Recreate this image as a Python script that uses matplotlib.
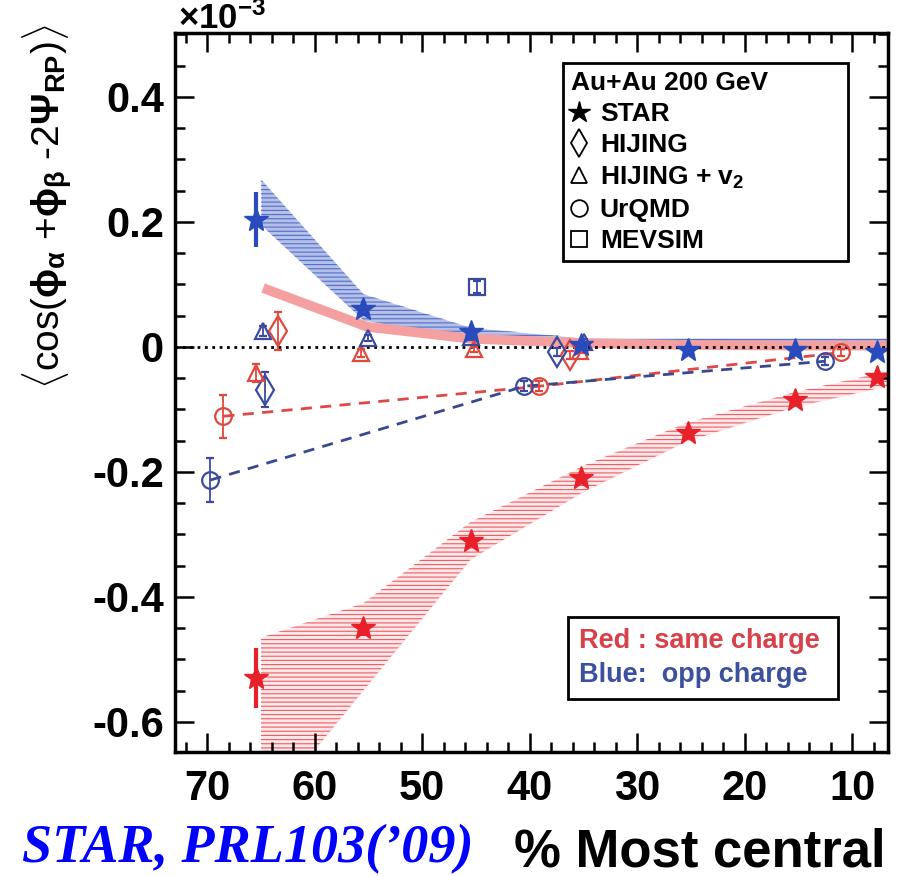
import matplotlib.pyplot as plt
import matplotlib.ticker as ticker
from matplotlib.lines import Line2D

plt.rcParams['font.family'] = ['Liberation Sans', 'DejaVu Sans']
plt.rcParams['font.weight'] = 'bold'
plt.rcParams['axes.unicode_minus'] = False
plt.rcParams['mathtext.fontset'] = 'custom'
plt.rcParams['mathtext.rm'] = 'Liberation Sans:bold'
plt.rcParams['mathtext.it'] = 'Liberation Sans:bold'
plt.rcParams['mathtext.bf'] = 'Liberation Sans:bold'
plt.rcParams['hatch.linewidth'] = 0.8

# STAR points (centrality %, value x 1e-3)
star_x = [65.5, 55.5, 45.5, 35.2, 25.3, 15.3, 7.7]
star_same = [-0.53, -0.45, -0.31, -0.21, -0.137, -0.085, -0.048]
star_same_err = [0.048, 0.012, 0.008, 0.006, 0.004, 0.004, 0.004]
star_opp = [0.203, 0.061, 0.023, 0.003, -0.005, -0.005, -0.008]
star_opp_err = [0.044, 0.012, 0.006, 0.004, 0.003, 0.003, 0.003]

# systematic bands
band_x = [65.0, 55.5, 45.5, 35.0, 25.5, 15.5, 6.5]
band_same_hi = [-0.465, -0.41, -0.28, -0.19, -0.122, -0.073, -0.038]
band_same_lo = [-0.75, -0.55, -0.34, -0.232, -0.152, -0.097, -0.062]
band_opp_hi = [0.268, 0.085, 0.031, 0.014, 0.014, 0.014, 0.014]
band_opp_lo = [0.195, 0.043, 0.011, 0.003, 0.002, 0.002, 0.002]

# thick pink curve
pink_x = [64.8, 55.1, 45.4, 35.0, 25.0, 15.0, 6.5]
pink_y = [0.094, 0.032, 0.013, 0.006, 0.003, 0.002, 0.002]

# HIJING
hij_same_x, hij_same_y, hij_same_err = [63.4, 36.2], [0.025, -0.013], [0.03, 0.006]
hij_opp_x, hij_opp_y, hij_opp_err = [64.6, 37.5], [-0.069, -0.008], [0.028, 0.006]

# HIJING + v2
hv2_same_x = [65.5, 55.7, 45.2, 35.3]
hv2_same_y = [-0.042, -0.010, -0.004, -0.006]
hv2_same_err = [0.014, 0.006, 0.004, 0.004]
hv2_opp_x = [64.8, 55.0, 45.5, 34.9]
hv2_opp_y = [0.025, 0.014, 0.015, 0.008]
hv2_opp_err = [0.008, 0.005, 0.004, 0.004]

# UrQMD
urq_same_x, urq_same_y, urq_same_err = [68.5, 39.1, 11.0], [-0.111, -0.063, -0.009], [0.034, 0.008, 0.006]
urq_opp_x, urq_opp_y, urq_opp_err = [69.7, 40.5, 12.5], [-0.213, -0.063, -0.023], [0.035, 0.008, 0.006]

# MEVSIM
mev_x, mev_y, mev_err = [44.9], [0.096], [0.01]

RED = '#e8202a'
RED_O = '#e0483c'
BLUE = '#2a4bbd'
BLUE_O = '#3b4a9e'
PINK = '#f4a0a0'

fig = plt.figure(figsize=(8.98, 8.76), dpi=100)
ax = fig.add_axes([0.1949, 0.1416, 0.794, 0.8207])

# bands
ax.fill_between(band_x, band_same_lo, band_same_hi, color=RED, alpha=0.10, lw=0)
ax.fill_between(band_x, band_same_lo, band_same_hi, facecolor='none', edgecolor=RED,
                hatch='----', lw=0, alpha=0.7)
ax.plot(pink_x, pink_y, color=PINK, lw=7, solid_capstyle='butt')
ax.fill_between(band_x, band_opp_lo, band_opp_hi, color=BLUE, alpha=0.35, lw=0)
ax.fill_between(band_x, band_opp_lo, band_opp_hi, facecolor='none', edgecolor=BLUE,
                hatch='----', lw=0, alpha=0.7)

ax.axhline(0, color='k', ls=':', lw=2)

# UrQMD dashed curves
ax.plot(urq_same_x, urq_same_y, color='#e04848', ls='--', lw=2, dashes=(4, 3))
ax.plot(urq_opp_x, urq_opp_y, color='#3a4890', ls='--', lw=2, dashes=(4, 3))

open_kw = dict(mfc='none', mew=1.6, elinewidth=1.3, capsize=3, ls='none')
ax.errorbar(urq_same_x, urq_same_y, yerr=urq_same_err, fmt='o', ms=12, color=RED_O, **open_kw)
ax.errorbar(urq_opp_x, urq_opp_y, yerr=urq_opp_err, fmt='o', ms=12, color=BLUE_O, **open_kw)
ax.errorbar(hij_same_x, hij_same_y, yerr=hij_same_err, fmt='d', ms=15, color=RED_O, **open_kw)
ax.errorbar(hij_opp_x, hij_opp_y, yerr=hij_opp_err, fmt='d', ms=15, color=BLUE_O, **open_kw)
ax.errorbar(hv2_same_x, hv2_same_y, yerr=hv2_same_err, fmt='^', ms=12, color=RED_O, **open_kw)
ax.errorbar(hv2_opp_x, hv2_opp_y, yerr=hv2_opp_err, fmt='^', ms=12, color=BLUE_O, **open_kw)
ax.errorbar(mev_x, mev_y, yerr=mev_err, fmt='s', ms=11, color=BLUE_O, **open_kw)

ax.errorbar(star_x, star_same, yerr=star_same_err, fmt='*', ms=18, color=RED,
            elinewidth=3, capsize=0)
ax.errorbar(star_x, star_opp, yerr=star_opp_err, fmt='*', ms=18, color=BLUE,
            elinewidth=3, capsize=0)

ax.set_xlim(73.0, 6.65)
ax.set_ylim(-0.648, 0.502)
ax.xaxis.set_major_locator(ticker.MultipleLocator(10))
ax.xaxis.set_minor_locator(ticker.MultipleLocator(2))
ax.yaxis.set_major_locator(ticker.MultipleLocator(0.2))
ax.yaxis.set_minor_locator(ticker.MultipleLocator(0.05))
fmt = ticker.FuncFormatter(lambda v, pos: '{0:g}'.format(round(v, 3)))
ax.xaxis.set_major_formatter(fmt)
ax.yaxis.set_major_formatter(fmt)
ax.tick_params(which='both', direction='in', top=True, right=True, width=1.8)
ax.tick_params(which='major', length=14)
ax.tick_params(which='minor', length=7)
ax.tick_params(axis='both', labelsize=30)
ax.tick_params(axis='x', pad=12)
ax.tick_params(axis='y', pad=8)
for s in ax.spines.values():
    s.set_linewidth(2.5)

ax.set_ylabel(r'$\langle$cos($\phi_{\alpha}$ +$\phi_{\beta}$ -2$\Psi_{RP}$)$\rangle$', fontsize=28)
ax.yaxis.set_label_coords(-0.14, 0.758)

# model legend
handles = [Line2D([], [], ls='none', marker='*', color='k', ms=16),
           Line2D([], [], ls='none', marker='d', mfc='none', mec='k', ms=14, mew=1.3),
           Line2D([], [], ls='none', marker='^', mfc='none', mec='k', ms=12, mew=1.3),
           Line2D([], [], ls='none', marker='o', mfc='none', mec='k', ms=12, mew=1.3),
           Line2D([], [], ls='none', marker='s', mfc='none', mec='k', ms=11, mew=1.3)]
labels = ['STAR', 'HIJING', 'HIJING + v$_2$', 'UrQMD', 'MEVSIM']
leg = ax.legend(handles, labels, title='Au+Au 200 GeV', loc='upper left',
                bbox_to_anchor=(0.544, 0.681, 0.40, 0.277), mode='expand',
                fontsize=19, title_fontsize=19, alignment='left', fancybox=False,
                edgecolor='k', framealpha=1, borderpad=0.3, borderaxespad=0,
                handlelength=0.6, handletextpad=0.5, labelspacing=0.27)
leg.get_frame().set_linewidth(2)
ax.add_artist(leg)

# charge legend
blank = [Line2D([], [], ls='none'), Line2D([], [], ls='none')]
leg2 = ax.legend(blank, ['Red : same charge', 'Blue:  opp charge'], loc='upper left',
                 bbox_to_anchor=(0.551, 0.065, 0.379, 0.123), mode='expand',
                 fontsize=19.5, labelcolor=['#d8404a', '#3c50a0'], fancybox=False,
                 edgecolor='k', framealpha=1, borderpad=0.4, borderaxespad=0,
                 handlelength=0, handletextpad=0, labelspacing=0.3)
leg2.get_frame().set_linewidth(2)

fig.text(0.198, 0.999, r'$\times$10$^{-3}$', fontsize=25, va='top')
fig.text(0.9866, 0.0114, '% Most central', fontsize=38, ha='right', va='baseline')
fig.text(0.0245, 0.016, 'STAR, PRL103(\u201909)', fontsize=39, color='#0000ff',
         family='Liberation Serif', style='italic', weight='bold', va='baseline')

fig.savefig('out.png', dpi=100)
